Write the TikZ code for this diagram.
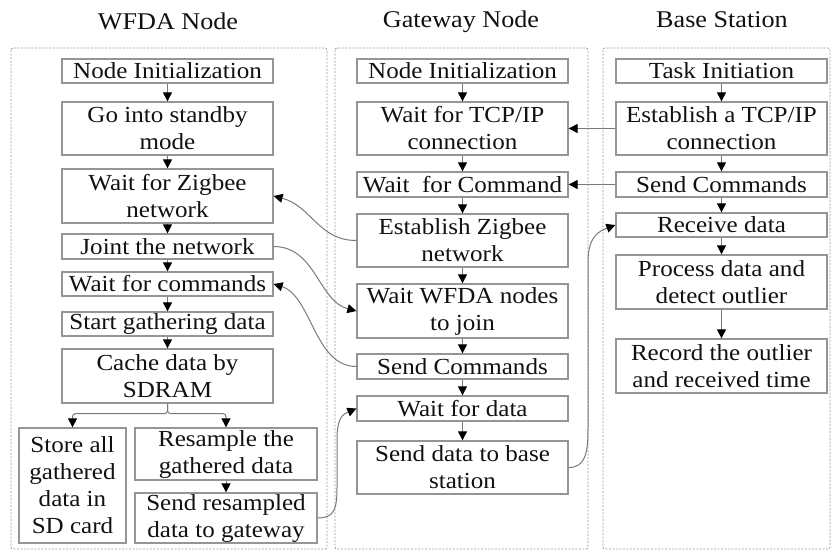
\documentclass[tikz,border=0pt]{standalone}
\usepackage{fontspec}
\setmainfont[FakeStretch=1.09]{Liberation Serif}
\usetikzlibrary{arrows.meta}
\definecolor{boxgray}{HTML}{959595}
\definecolor{linegray}{HTML}{7A7A7A}
\definecolor{dashgray}{HTML}{9A9A9A}
\definecolor{txt}{HTML}{111111}
\begin{document}
\begin{tikzpicture}[x=1pt,y=-1pt,
  bx/.style={draw=boxgray,line width=1.3pt,inner sep=0pt,align=center,text=txt,font=\fontsize{23}{27}\selectfont},
  wide/.style={minimum width=211pt},
  frame/.style={draw=dashgray,line width=0.8pt,dash pattern=on 2pt off 1.5pt,rounded corners=2pt},
  conn/.style={draw=linegray,line width=1pt,-{Triangle[length=9pt,width=9pt,color=black]}},
  ttl/.style={font=\fontsize{24}{28}\selectfont,text=txt,anchor=base}]
\useasboundingbox (0,0) rectangle (831,552);
% frames
\draw[frame] (11,48) rectangle (327,549);
\draw[frame] (335,48) rectangle (588,549);
\draw[frame] (603,48) rectangle (830,549);
% titles
\node[ttl] (t1) at (168,29) {WFDA Node};
\node[ttl] (t2) at (461,27) {Gateway Node};
\node[ttl] (t3) at (722,27) {Base Station};
% WFDA column
\node[bx,wide,minimum height=24pt] (w1) at (167.5,71) {Node Initialization};
\node[bx,wide,minimum height=53pt] (w2) at (167.5,128.5) {Go into standby\\mode};
\node[bx,wide,minimum height=54pt] (w3) at (167.5,196) {Wait for Zigbee\\network};
\node[bx,wide,minimum height=25pt] (w4) at (167.5,246.5) {Joint the network};
\node[bx,wide,minimum height=24pt] (w5) at (167.5,284) {Wait for commands};
\node[bx,wide,minimum height=24pt] (w6) at (167.5,324) {Start gathering data};
\node[bx,wide,minimum height=54pt] (w7) at (167.5,376) {Cache data by\\SDRAM};
\node[bx,minimum width=107pt,minimum height=115pt] (w8) at (72.5,485.5) {Store all\\gathered\\data in\\SD card};
\node[bx,minimum width=182pt,minimum height=52pt] (w9) at (226,454) {Resample the\\gathered data};
\node[bx,minimum width=182pt,minimum height=50pt] (w10) at (226,518) {Send resampled\\data to gateway};
% Gateway column
\node[bx,wide,minimum height=24pt] (g1) at (462.5,71) {Node Initialization};
\node[bx,wide,minimum height=53pt] (g2) at (462.5,128.5) {Wait for TCP/IP\\connection};
\node[bx,wide,minimum height=25pt] (g3) at (462.5,184.5) {Wait~ for Command};
\node[bx,wide,minimum height=53pt] (g4) at (462.5,240.5) {Establish Zigbee\\network};
\node[bx,wide,minimum height=54pt] (g5) at (462.5,311) {Wait WFDA nodes\\to join};
\node[bx,wide,minimum height=25pt] (g6) at (462.5,366.5) {Send Commands};
\node[bx,wide,minimum height=25pt] (g7) at (462.5,408.5) {Wait for data};
\node[bx,wide,minimum height=53pt] (g8) at (462.5,467.5) {Send data to base\\station};
% Base column
\node[bx,wide,minimum height=24pt] (b1) at (721.5,71) {Task Initiation};
\node[bx,wide,minimum height=53pt] (b2) at (721.5,128.5) {Establish a TCP/IP\\connection};
\node[bx,wide,minimum height=25pt] (b3) at (721.5,184.5) {Send Commands};
\node[bx,wide,minimum height=24pt] (b4) at (721.5,225) {Receive data};
\node[bx,wide,minimum height=54pt] (b5) at (721.5,282) {Process data and\\detect outlier};
\node[bx,wide,minimum height=54pt] (b6) at (721.5,366) {Record the outlier\\and received time};
% vertical flow
\foreach \a/\b in {w1/w2,w2/w3,w3/w4,w4/w5,w5/w6,w6/w7,w9/w10,
                   g1/g2,g2/g3,g3/g4,g4/g5,g5/g6,g6/g7,g7/g8,
                   b1/b2,b2/b3,b3/b4,b4/b5,b5/b6}
  \draw[conn] (\a.south) -- (\b.north);
\draw[conn,rounded corners=3pt] (w7.south) -- ++(0,10) -| (w8.north);
\draw[conn,rounded corners=3pt] (w7.south) -- ++(0,10) -| (w9.north);
% cross connections
\draw[conn] (b2.west) -- (g2.east);
\draw[conn] (b3.west) -- (g3.east);
\draw[conn] (g4.west) .. controls +(-38,0) and +(38,10) .. (w3.east);
\draw[conn] (w4.east) .. controls +(42,0) and +(-38,-10) .. (g5.west);
\draw[conn] (g6.west) .. controls +(-42,0) and +(38,12) .. (w5.east);
\draw[conn] (w10.east) .. controls +(16,0) and +(0,22) .. (337,488) -- (337,440)
  .. controls +(0,-22) and +(-14,6) .. (g7.west);
\draw[conn] (g8.east) .. controls +(16,0) and +(0,24) .. (588,430) -- (588,262)
  .. controls +(0,-26) and +(-16,6) .. (b4.west);
\end{tikzpicture}
\end{document}
